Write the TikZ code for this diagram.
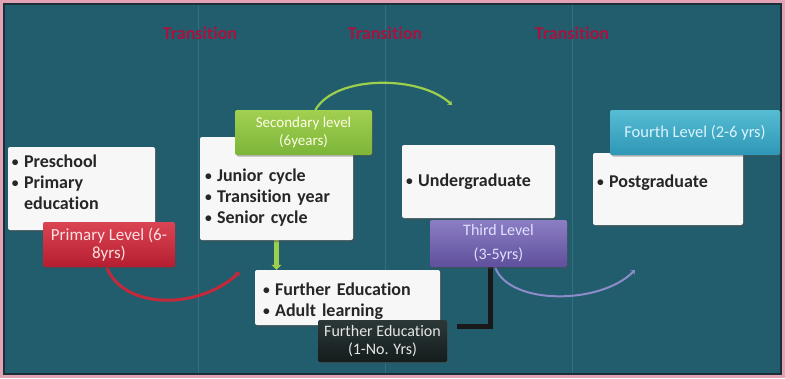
\documentclass[tikz,border=0pt]{standalone}
\usepackage{fontspec}
\setmainfont{Carlito}[Ligatures=NoCommon]
\usetikzlibrary{shadows,calc,arrows.meta}
\pgfdeclarelayer{back}
\pgfdeclarelayer{mid}
\pgfsetlayers{back,mid,main}
\definecolor{pinkframe}{HTML}{E4A3B5}
\definecolor{darkframe}{HTML}{1B2F38}
\definecolor{teal}{HTML}{225D6D}
\definecolor{tealline}{HTML}{3F7B8A}
\definecolor{translabel}{HTML}{A8123F}
\definecolor{redtop}{HTML}{DA4453}
\definecolor{redbot}{HTML}{B41E30}
\definecolor{greentop}{HTML}{A2D050}
\definecolor{greenbot}{HTML}{7CB53A}
\definecolor{purptop}{HTML}{8C7EC4}
\definecolor{purpbot}{HTML}{5F4F9C}
\definecolor{cyantop}{HTML}{56BCD4}
\definecolor{cyanbot}{HTML}{2F97B6}
\definecolor{darktop}{HTML}{2C3838}
\definecolor{darkbot}{HTML}{141C1C}
\definecolor{redcurve}{HTML}{C22A3C}
\definecolor{greencurve}{HTML}{9CCF4C}
\definecolor{purpcurve}{HTML}{8C8CCB}
\newcommand\bul{\raisebox{.12ex}{\scalebox{.75}{\textbullet}}\hspace{.3em}}
\tikzset{
  wbox/.style={fill=white!94!gray, rounded corners=2pt,
    drop shadow={shadow xshift=2pt, shadow yshift=-2pt, fill=black!70, opacity=0.45},
    font=\bfseries\fontsize{18}{21}\selectfont, text=black!85, align=left, inner sep=0pt},
  cbox/.style={rounded corners=2pt, align=center, inner sep=0pt,
    drop shadow={shadow xshift=1.5pt, shadow yshift=-1.5pt, fill=black!70, opacity=0.4}},
  translbl/.style={font=\bfseries\fontsize{18}{20}\selectfont, text=translabel},
  curvedarrow/.style={line width=#1, -{Stealth[length=4pt,width=6pt]}, line cap=round},
}
\begin{document}
\begin{tikzpicture}[x=1pt,y=-1pt]
\useasboundingbox (0,0) rectangle (785,378);
\begin{pgfonlayer}{back}
  \fill[pinkframe] (0,0) rectangle (785,378);
  \fill[darkframe] (3,3) rectangle (782,375);
  \fill[teal] (5,5) rectangle (780,373);
  \foreach \xx in {198,385,572} \draw[tealline, line width=0.8pt, opacity=0.6] (\xx,5) -- (\xx,373);
\end{pgfonlayer}

% top labels
\node[translbl] (t1) at (200,33) {Transition};
\node[translbl] (t2) at (385,33) {Transition};
\node[translbl] (t3) at (572,33) {Transition};

% white boxes
\node[wbox, minimum width=147pt, minimum height=83pt, text width=139pt] (pre) at (81.5,188.5)
  {\bul Preschool\\\bul Primary\\\phantom{\bul}education\\[-8pt]\mbox{}};
\node[wbox, minimum width=153pt, minimum height=103pt, text width=143pt] (jun) at (276.5,188.5)
  {\mbox{}\\[10pt]\bul Junior cycle\\\bul Transition year\\\bul Senior cycle};
\node[wbox, minimum width=185pt, minimum height=55pt, text width=169pt] (fur) at (347.5,297.5)
  {\mbox{}\\\bul Further Education\\\bul Adult learning};
\node[wbox, minimum width=153pt, minimum height=73pt, text width=145pt] (und) at (478.5,181.5)
  {\bul Undergraduate};
\node[wbox, minimum width=150pt, minimum height=72pt, text width=142pt] (pos) at (668,189)
  {\bul Postgraduate\\[-6pt]\mbox{}};

% coloured label boxes
\node[cbox, top color=redtop, bottom color=redbot, text=white!88!red,
  font=\fontsize{17}{18}\selectfont,
  minimum width=132pt, minimum height=45pt] (prim) at (109,244.5) {Primary Level (6-\\8yrs)};
\node[cbox, top color=greentop, bottom color=greenbot, text=white!90!yellow,
  font=\fontsize{15}{18}\selectfont,
  minimum width=137pt, minimum height=45pt] (sec) at (303.5,132.5) {Secondary level\\(6years)};
\node[cbox, top color=darktop, bottom color=darkbot, text=white!80!gray,
  font=\fontsize{16}{18}\selectfont,
  minimum width=129pt, minimum height=42pt] (fed) at (382.5,341) {Further Education\\(1-No. Yrs)};
\node[cbox, top color=purptop, bottom color=purpbot, text=white!88!blue,
  font=\fontsize{16}{24}\selectfont,
  minimum width=137pt, minimum height=47pt] (thi) at (498.5,243.5) {Third Level\\(3-5yrs)};
\node[cbox, top color=cyantop, bottom color=cyanbot, text=white!85!cyan,
  font=\fontsize{16.5}{18}\selectfont,
  minimum width=170pt, minimum height=45pt] (fou) at (695,132.5) {Fourth Level (2-6 yrs)};

\coordinate (gend) at (452,105);
\coordinate (pend) at (635,270);

\begin{pgfonlayer}{mid}
  \draw[redcurve, curvedarrow=3pt] ($(prim.south)+(-2,1)$) .. controls +(18,42) and +(-40,38) .. ($(fur.north west)+(-15,2)$);
  \draw[greencurve, curvedarrow=2.2pt] ($(sec.north)+(12,0)$) .. controls +(20,-35) and +(-32,-30) .. (gend);
  \draw[purpcurve, curvedarrow=2pt] ($(thi.south)+(-3,1)$) .. controls +(15,37) and +(-35,35) .. (pend);
  \draw[black!90, line width=5pt] ($(fed.north east)+(10,7)$) -| ($(thi.south)+(-8,0)$);
  \draw[greencurve, line width=5pt, -{Triangle[length=5pt,width=10pt]}]
    (jun.south) -- (jun.south |- fur.north);
\end{pgfonlayer}
\end{tikzpicture}
\end{document}
